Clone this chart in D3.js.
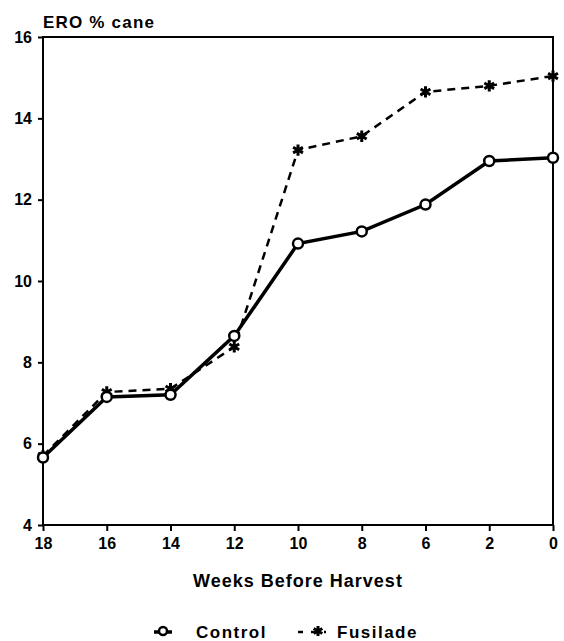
<!DOCTYPE html>
<html>
<head>
<meta charset="utf-8">
<script src="https://cdn.jsdelivr.net/npm/d3@7"></script>
<style>
  body { margin: 0; background: #fff; }
  svg text { font-family: "Liberation Sans", Arial, sans-serif; font-weight: bold; fill: #000; }
</style>
</head>
<body>
<div id="chart"></div>
<script>
// data
const weeks = ["18", "16", "14", "12", "10", "8", "6", "2", "0"];
const control = [5.66, 7.15, 7.2, 8.65, 10.92, 11.22, 11.88, 12.95, 13.03];
const fusilade = [5.7, 7.27, 7.35, 8.38, 13.22, 13.56, 14.65, 14.8, 15.04];
const yTicks = [4, 6, 8, 10, 12, 14, 16];

const width = 564, height = 641;
const margin = { top: 37, right: 11, bottom: 116, left: 43 };

const svg = d3.select("#chart").append("svg")
  .attr("width", width)
  .attr("height", height);

const xScale = d3.scalePoint()
  .domain(weeks)
  .range([margin.left, width - margin.right]);

const yScale = d3.scaleLinear()
  .domain([4, 16])
  .range([height - margin.bottom, margin.top]);

// frame
svg.append("rect")
  .attr("x", margin.left)
  .attr("y", margin.top)
  .attr("width", width - margin.left - margin.right)
  .attr("height", height - margin.top - margin.bottom)
  .attr("fill", "none")
  .attr("stroke", "#000")
  .attr("stroke-width", 2);

// axes
const xAxis = svg.append("g")
  .attr("transform", `translate(0,${height - margin.bottom})`)
  .call(d3.axisBottom(xScale).tickSize(6).tickPadding(7));

const yAxis = svg.append("g")
  .attr("transform", `translate(${margin.left},0)`)
  .call(d3.axisLeft(yScale).tickValues(yTicks).tickSize(5).tickPadding(6));

[xAxis, yAxis].forEach(g => {
  g.select(".domain").remove();
  g.selectAll(".tick line").attr("stroke", "#000").attr("stroke-width", 2);
  g.selectAll(".tick text")
    .style("font-size", "16px")
    .style("font-family", "Liberation Sans, Arial, sans-serif");
});

// labels
svg.append("text")
  .attr("x", margin.left)
  .attr("y", 28)
  .style("font-size", "17px")
  .style("letter-spacing", "1.2px")
  .text("ERO % cane");

svg.append("text")
  .attr("x", (margin.left + width - margin.right) / 2)
  .attr("y", 587)
  .attr("text-anchor", "middle")
  .style("font-size", "18px")
  .style("letter-spacing", "1px")
  .text("Weeks Before Harvest");

// lines
const line = d3.line()
  .x((d, i) => xScale(weeks[i]))
  .y(d => yScale(d));

svg.append("path")
  .datum(fusilade)
  .attr("d", line)
  .attr("fill", "none")
  .attr("stroke", "#000")
  .attr("stroke-width", 2.5)
  .attr("stroke-dasharray", "8,6");

svg.append("path")
  .datum(control)
  .attr("d", line)
  .attr("fill", "none")
  .attr("stroke", "#000")
  .attr("stroke-width", 3.5);

// star marker for fusilade
const star = d3.symbol().type(d3.symbolAsterisk).size(90);

svg.selectAll(".fus")
  .data(fusilade)
  .join("path")
  .attr("class", "fus")
  .attr("transform", (d, i) => `translate(${xScale(weeks[i])},${yScale(d)})`)
  .attr("d", star)
  .attr("fill", "none")
  .attr("stroke", "#000")
  .attr("stroke-width", 3);

svg.selectAll(".ctl")
  .data(control)
  .join("circle")
  .attr("class", "ctl")
  .attr("cx", (d, i) => xScale(weeks[i]))
  .attr("cy", d => yScale(d))
  .attr("r", 5)
  .attr("fill", "#fff")
  .attr("stroke", "#000")
  .attr("stroke-width", 2.5);

// legend
const legY = 632;
const leg = svg.append("g");
leg.append("line")
  .attr("x1", 154).attr("x2", 172)
  .attr("y1", legY).attr("y2", legY)
  .attr("stroke", "#000").attr("stroke-width", 3.5);
leg.append("circle")
  .attr("cx", 163).attr("cy", legY - 1).attr("r", 4)
  .attr("fill", "#fff").attr("stroke", "#000").attr("stroke-width", 2.5);
leg.append("text")
  .attr("x", 196).attr("y", legY + 6)
  .style("font-size", "17px")
  .style("letter-spacing", "1.5px")
  .text("Control");

leg.append("line")
  .attr("x1", 298).attr("x2", 326)
  .attr("y1", legY).attr("y2", legY)
  .attr("stroke", "#000").attr("stroke-width", 2.5)
  .attr("stroke-dasharray", "5,8");
leg.append("path")
  .attr("transform", `translate(318,${legY - 1})`)
  .attr("d", d3.symbol().type(d3.symbolAsterisk).size(70))
  .attr("fill", "none").attr("stroke", "#000").attr("stroke-width", 3);
leg.append("text")
  .attr("x", 337).attr("y", legY + 6)
  .style("font-size", "17px")
  .style("letter-spacing", "1.5px")
  .text("Fusilade");
</script>
</body>
</html>
